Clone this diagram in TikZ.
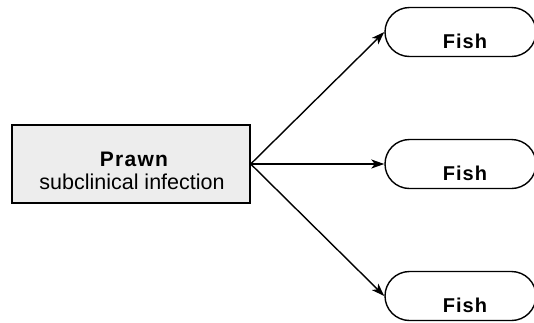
\documentclass[tikz,border=0pt]{standalone}
\usepackage{fontspec}
\setmainfont{Liberation Sans}
\usetikzlibrary{arrows.meta,shapes.misc}
\begin{document}
\begin{tikzpicture}[x=1pt,y=-1pt,
  line width=1.4pt,
  prawnbox/.style={draw=black,fill=black!7,minimum width=238pt,minimum height=78pt,inner sep=0pt},
  fishbox/.style={draw=black,fill=white,rounded rectangle,minimum width=151pt,minimum height=49pt,inner sep=0pt},
  fishlabel/.style={font=\fontsize{20}{24}\selectfont\bfseries,anchor=base,inner sep=0pt},
  conn/.style={-{Stealth[length=13pt,width=9pt,inset=3.5pt]}}
]
\useasboundingbox (0,0) rectangle (534,322);
\node[prawnbox] (prawn) at (131,164) {};
\node[font=\fontsize{21}{24}\selectfont\bfseries,anchor=base,inner sep=0pt] (prawnlabel) at (134,166) {\addfontfeature{LetterSpace=6}Prawn};
\node[font=\fontsize{21.5}{24}\selectfont,anchor=base,inner sep=0pt] (sublabel) at (132,189) {subclinical infection};
\node[fishbox] (f1) at (460.5,32) {};
\node[fishbox] (f2) at (460.5,164) {};
\node[fishbox] (f3) at (460.5,296) {};
\node[fishlabel] (t1) at (465,48) {\addfontfeature{LetterSpace=5}Fish};
\node[fishlabel] (t2) at (465,180) {\addfontfeature{LetterSpace=5}Fish};
\node[fishlabel] (t3) at (465,312) {\addfontfeature{LetterSpace=5}Fish};
\draw[conn] (prawn.east) -- (f1.west);
\draw[conn] (prawn.east) -- (f2.west);
\draw[conn] (prawn.east) -- (f3.west);
\end{tikzpicture}
\end{document}
